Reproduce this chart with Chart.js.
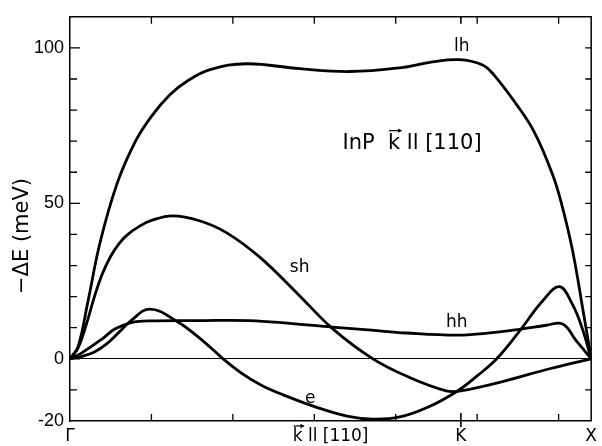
<!DOCTYPE html>
<html>
<head>
<meta charset="utf-8">
<script src="https://cdn.jsdelivr.net/npm/chart.js@4"></script>
<style>
  html, body { margin: 0; padding: 0; background: #fff; }
  #wrap { width: 602px; height: 446px; position: relative; }
</style>
</head>
<body>
<div id="wrap"><canvas id="c" width="602" height="446"></canvas></div>
<script>
// ---- data (k in units where Γ = 0, K = 4.8, X = 6.4; energies in meV) ----
const kLh = [0, 0.1, 0.22, 0.37, 0.58, 0.8, 1.0, 1.23, 1.45, 1.72, 2.17, 2.82, 3.43, 4.05, 4.45, 4.78, 5.06, 5.2, 5.48, 5.7, 5.92, 6.03, 6.17, 6.31, 6.4];
const eLh = [0, 4, 18.4, 37.5, 56.5, 69.8, 78, 85, 89.5, 93, 94.9, 93.3, 92.4, 93.6, 95.5, 96.2, 94.6, 91.5, 81.9, 73, 59.7, 50.5, 35, 14, 0];

const kSh = [0, 0.1, 0.2, 0.3, 0.4, 0.5, 0.6, 0.7, 0.85, 1.0, 1.26, 1.59, 1.92, 2.33, 2.8, 3.22, 3.72, 4.17, 4.62, 4.8, 5.3, 5.89, 6.4];
const eSh = [0, 3.5, 11, 20, 27.5, 33, 37, 39.8, 42.6, 44.5, 46, 44.4, 40.6, 32.7, 20.8, 9.8, 0, -6, -10.3, -10.3, -7.4, -3.2, 0];

const kHh = [0, 0.15, 0.40, 0.55, 0.75, 1.0, 1.6, 2.2, 2.7, 3.22, 3.7, 4.13, 4.75, 5.1, 5.52, 5.85, 6.05, 6.22, 6.4];
const eHh = [0, 2.0, 6.5, 9.6, 11.6, 12.2, 12.3, 12.3, 11.4, 10.2, 9.2, 8.3, 7.6, 8.2, 9.5, 10.8, 11.2, 5.7, 0];

const kE = [0, 0.15, 0.3, 0.45, 0.6, 0.75, 0.98, 1.31, 1.6, 1.88, 2.1, 2.35, 2.61, 3.03, 3.4, 3.72, 4.05, 4.4, 4.75, 5.0, 5.24, 5.52, 5.8, 6.01, 6.17, 6.29, 6.4];
const eE = [0, 0.8, 2.2, 4.8, 8.5, 12.3, 16, 12.1, 6.5, 0, -4.5, -8.5, -11.5, -15.6, -18.4, -19.4, -18.7, -15.5, -10.5, -5.5, 0, 8.9, 18.5, 23.2, 17.5, 9.8, 0];

// ---- tick labels ----
const xTickValues = [0, 3.2, 4.8, 6.4];
const xTickLabels = ['Γ', 'k ll [110]', 'K', 'X'];
const xMinorTicks = [1, 2, 3, 4, 5, 6];
const yTickValues = [-20, 0, 50, 100];
const yTickLabels = ['-20', '0', '50', '100'];
const yTitle = '−ΔE (meV)';

// ---- curve labels ----
const curveLabels = [
  { text: 'lh', k: 4.81, e: 100.5, size: 17 },
  { text: 'InP  k ll [110]', k: 4.2, e: 69.2, size: 21, arrow: 'InP  ' },
  { text: 'sh', k: 2.82, e: 29.5, size: 17 },
  { text: 'hh', k: 4.75, e: 11.6, size: 17 },
  { text: 'e', k: 2.95, e: -12.7, size: 17 }
];

const FONT = "'DejaVu Sans', 'Liberation Sans', sans-serif";
const NUMFONT = "'Liberation Sans', 'DejaVu Sans', sans-serif";
function pts(ks, es) { return ks.map((k, i) => ({ x: k, y: es[i] })); }
function ds(ks, es) {
  return {
    data: pts(ks, es), borderColor: '#000', borderWidth: 2.8, pointRadius: 0,
    fill: false, tension: 0.4
  };
}

function arrowOverK(ctx, xLeft, kWidth, yTop) {
  const x0 = xLeft + 1, x1 = xLeft + kWidth + 1;
  ctx.beginPath();
  ctx.moveTo(x0, yTop); ctx.lineTo(x1, yTop);
  ctx.stroke();
  ctx.beginPath();
  ctx.moveTo(x1 + 1, yTop); ctx.lineTo(x1 - 3, yTop - 2.2); ctx.lineTo(x1 - 3, yTop + 2.2); ctx.closePath();
  ctx.fill();
}

const decor = {
  id: 'decor',
  afterDraw(chart) {
    const ctx = chart.ctx, a = chart.chartArea;
    const xs = chart.scales.x, ys = chart.scales.y;
    ctx.save();
    ctx.strokeStyle = '#000';
    ctx.fillStyle = '#000';
    ctx.lineWidth = 1.5;
    ctx.beginPath();
    ctx.moveTo(a.left, a.top); ctx.lineTo(a.right, a.top); ctx.lineTo(a.right, a.bottom);
    ctx.stroke();
    ctx.lineWidth = 1.3;
    ys.ticks.forEach(t => {
      const v = t.value;
      if (v <= -20 || v >= 110) return;
      const py = ys.getPixelForValue(v);
      const major = yTickValues.includes(v);
      ctx.beginPath();
      ctx.moveTo(a.left, py); ctx.lineTo(a.left + (major ? 10 : 7), py);
      ctx.moveTo(a.right, py); ctx.lineTo(a.right - 6, py);
      ctx.stroke();
    });
    xMinorTicks.forEach(v => {
      const px = xs.getPixelForValue(v);
      ctx.beginPath();
      ctx.moveTo(px, a.bottom); ctx.lineTo(px, a.bottom - 7);
      ctx.moveTo(px, a.top); ctx.lineTo(px, a.top + 7);
      ctx.stroke();
    });
    const pk = xs.getPixelForValue(4.8);
    ctx.lineWidth = 1.6;
    ctx.beginPath();
    ctx.moveTo(pk, a.bottom - 8); ctx.lineTo(pk, a.bottom + 6);
    ctx.moveTo(pk, a.top); ctx.lineTo(pk, a.top + 7);
    ctx.stroke();
    ctx.textAlign = 'center';
    ctx.textBaseline = 'middle';
    ctx.lineWidth = 1.2;
    curveLabels.forEach(l => {
      ctx.font = l.size + 'px ' + FONT;
      const cx = xs.getPixelForValue(l.k), cy = ys.getPixelForValue(l.e);
      ctx.fillText(l.text, cx, cy);
      if (l.arrow !== undefined) {
        const w = ctx.measureText(l.text).width;
        const pre = ctx.measureText(l.arrow).width;
        const kw = ctx.measureText('k').width;
        arrowOverK(ctx, cx - w / 2 + pre, kw, cy - l.size * 0.62);
      }
    });
    ctx.font = '17px ' + FONT;
    const lbl = xTickLabels[1];
    const lw = ctx.measureText(lbl).width;
    const lx = xs.getPixelForValue(xTickValues[1]) - lw / 2;
    arrowOverK(ctx, lx, ctx.measureText('k').width, a.bottom + 5);
    ctx.font = '21px ' + FONT;
    ctx.translate(23, 236);
    ctx.rotate(-Math.PI / 2);
    ctx.fillText(yTitle, 0, 0);
    ctx.restore();
  }
};

new Chart(document.getElementById('c'), {
  type: 'line',
  data: { datasets: [ds(kLh, eLh), ds(kSh, eSh), ds(kHh, eHh), ds(kE, eE)] },
  options: {
    responsive: false,
    animation: false,
    layout: { padding: { top: 11, right: 10, left: 0, bottom: 0 } },
    plugins: { legend: { display: false }, tooltip: { enabled: false } },
    scales: {
      x: {
        type: 'linear', min: 0, max: 6.4,
        afterBuildTicks: s => { s.ticks = xTickValues.map(v => ({ value: v })); },
        afterFit: s => { s.height = 25; },
        grid: { display: false, drawTicks: false },
        border: { display: true, color: '#000', width: 1.5 },
        ticks: {
          padding: 5, color: '#000', maxRotation: 0, autoSkip: false,
          font: { family: FONT, size: 17 },
          callback: v => { const i = xTickValues.indexOf(v); return i >= 0 ? xTickLabels[i] : ''; }
        }
      },
      y: {
        type: 'linear', min: -20, max: 110,
        afterFit: s => { s.width = 70; },
        grid: {
          drawTicks: false, drawOnChartArea: true,
          color: c => (c.tick && c.tick.value === 0) ? '#000' : 'rgba(0,0,0,0)',
          lineWidth: 1
        },
        border: { display: true, color: '#000', width: 1.5 },
        ticks: {
          stepSize: 10, padding: 6, color: '#000', autoSkip: false,
          font: { family: NUMFONT, size: 18 },
          callback: v => { const i = yTickValues.indexOf(v); return i >= 0 ? yTickLabels[i] : ''; }
        }
      }
    }
  },
  plugins: [decor]
});
</script>
</body>
</html>
